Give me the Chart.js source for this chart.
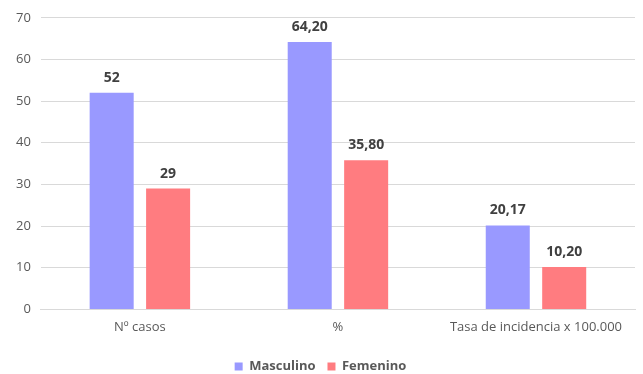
<!DOCTYPE html>
<html><head><meta charset="utf-8">
<script src="https://cdn.jsdelivr.net/npm/chart.js@4"></script>
<style>html,body{margin:0;padding:0;background:#fff;}#wrap{width:643px;height:374px;position:relative;}</style>
</head><body><div id="wrap"><canvas id="c"></canvas></div>
<script>
const categories = ['Nº casos', '%', 'Tasa de incidencia x 100.000'];
const masculino = [52, 64.20, 20.17];
const femenino = [29, 35.80, 10.20];
const masculinoLabels = ['52', '64,20', '20,17'];
const femeninoLabels = ['29', '35,80', '10,20'];
const yTicks = [0, 10, 20, 30, 40, 50, 60, 70];

const labelPlugin = {
  id: 'valLabels',
  afterDatasetsDraw(chart) {
    const ctx = chart.ctx;
    ctx.save();
    ctx.font = 'bold 14px "Open Sans", sans-serif';
    ctx.fillStyle = '#404040';
    ctx.textAlign = 'center';
    ctx.textBaseline = 'bottom';
    const lbls = [masculinoLabels, femeninoLabels];
    chart.data.datasets.forEach((ds, i) => {
      chart.getDatasetMeta(i).data.forEach((bar, j) => {
        ctx.fillText(lbls[i][j], bar.x, bar.y - 8);
      });
    });
    ctx.restore();
  }
};

new Chart(document.getElementById('c'), {
  type: 'bar',
  data: {
    labels: categories,
    datasets: [
      { label: 'Masculino', data: masculino, backgroundColor: '#9999FF', barPercentage: 0.78, categoryPercentage: 0.57 },
      { label: 'Femenino', data: femenino, backgroundColor: '#FF7C80', barPercentage: 0.78, categoryPercentage: 0.57 }
    ]
  },
  options: {
    responsive: true,
    maintainAspectRatio: false,
    animation: false,
    layout: { padding: { top: 10, right: 8, left: 6, bottom: -9 } },
    plugins: {
      legend: {
        position: 'bottom',
        labels: { boxWidth: 8, boxHeight: 8, color: '#595959', font: { family: '"Open Sans", sans-serif', size: 13, weight: 'bold' }, padding: 12 }
      },
      tooltip: { enabled: false }
    },
    scales: {
      x: {
        grid: { display: false, drawTicks: false },
        border: { color: '#d9d9d9' },
        ticks: { color: '#595959', font: { family: '"Open Sans", sans-serif', size: 13 }, padding: 10 },
        afterFit(axis) { axis.height += 3; }
      },
      y: {
        min: 0, max: 70,
        afterBuildTicks(axis) { axis.ticks = yTicks.map(v => ({ value: v })); },
        grid: { color: '#d9d9d9', drawTicks: false },
        border: { display: false },
        ticks: { color: '#595959', font: { family: '"Open Sans", sans-serif', size: 13 }, padding: 10 }
      }
    }
  },
  plugins: [labelPlugin]
});
</script></body></html>
